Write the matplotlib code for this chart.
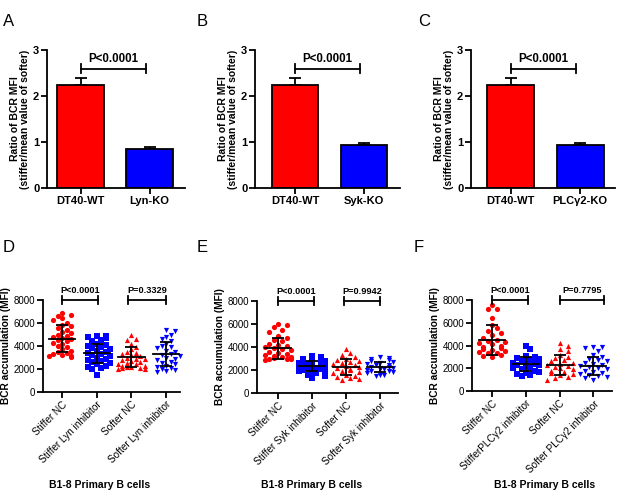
import numpy as np
import matplotlib
matplotlib.use("Agg")
import matplotlib.pyplot as plt

plt.rcParams['font.family'] = ['Liberation Sans', 'DejaVu Sans']

W, H = 617, 495
DPI = 100

# ---------------- data: top bar panels ----------------
bar_categories_A = ["DT40-WT", "Lyn-KO"]
bar_categories_B = ["DT40-WT", "Syk-KO"]
bar_categories_C = ["DT40-WT", "PLC\u03b32-KO"]
bar_means_A = [2.25, 0.85]
bar_err_A = [0.15, 0.04]
bar_means_B = [2.25, 0.93]
bar_err_B = [0.15, 0.05]
bar_means_C = [2.25, 0.93]
bar_err_C = [0.15, 0.05]
bar_pvalues = ["P<0.0001", "P<0.0001", "P<0.0001"]

# ---------------- data: bottom scatter panels ----------------
cats_D = ["Stiffer NC", "Stiffer Lyn inhibitor", "Softer NC", "Softer Lyn inhibitor"]
cats_E = ["Stiffer NC", "Stiffer Syk inhibitor", "Softer NC", "Softer Syk inhibitor"]
cats_F = ["Stiffer NC", "StifferPLC\u03b32 inhibitor", "Softer NC", "Softer PLC\u03b32 inhibitor"]

D_stiff_nc = [6850, 6700, 6600, 6400, 6300, 6000, 5800, 5700, 5600, 5400, 5200, 5100, 5000, 4900,
              4800, 4700, 4600, 4500, 4400, 4300, 4200, 4000, 3900, 3700, 3600, 3500, 3400, 3300,
              3200, 3150, 3100, 3050]
D_stiff_inh = [4900, 4850, 4800, 4700, 4500, 4400, 4200, 4100, 4000, 3900, 3800, 3700, 3600, 3500,
               3400, 3300, 3200, 3100, 3000, 2900, 2800, 2700, 2600, 2500, 2400, 2300, 2200, 2100,
               2000, 1500]
D_soft_nc = [5000, 4600, 4500, 4200, 3900, 3700, 3500, 3400, 3300, 3200, 3100, 3000, 2900, 2850,
             2800, 2700, 2600, 2500, 2450, 2400, 2300, 2250, 2200, 2150, 2100, 2050, 2000, 2000]
D_soft_inh = [5400, 5300, 5000, 4800, 4600, 4400, 4200, 4000, 3900, 3800, 3600, 3500, 3300, 3200,
              3100, 3000, 2900, 2800, 2600, 2500, 2400, 2300, 2200, 2100, 2000, 1900, 1800, 1700]

E_stiff_nc = [6000, 5900, 5700, 5500, 5300, 5000, 4800, 4600, 4500, 4300, 4200, 4100, 4000, 3900,
              3800, 3700, 3600, 3500, 3400, 3300, 3200, 3150, 3100, 3050, 3000, 3000, 2950, 2900]
E_stiff_inh = [3200, 3100, 3000, 2900, 2850, 2800, 2700, 2650, 2600, 2500, 2450, 2400, 2350, 2300,
               2250, 2200, 2150, 2100, 2000, 1950, 1900, 1800, 1700, 1600, 1500, 1300]
E_soft_nc = [3800, 3500, 3300, 3100, 3000, 2900, 2800, 2700, 2600, 2500, 2400, 2350, 2300, 2200,
             2100, 2000, 1900, 1800, 1700, 1600, 1500, 1400, 1300, 1200, 1100]
E_soft_inh = [3100, 3050, 3000, 2900, 2800, 2700, 2600, 2500, 2450, 2400, 2300, 2250, 2200, 2150,
              2100, 2050, 2000, 1950, 1900, 1800, 1700, 1600, 1550, 1500]

F_stiff_nc = [7600, 7200, 7200, 6400, 5800, 5500, 5300, 5100, 4900, 4700, 4500, 4400, 4300, 4200,
              4100, 4000, 3900, 3800, 3700, 3600, 3500, 3400, 3300, 3300, 3200, 3100, 3000]
F_stiff_inh = [4000, 3700, 3100, 3000, 2900, 2800, 2700, 2600, 2500, 2450, 2400, 2350, 2300, 2250,
               2200, 2100, 2000, 1900, 1800, 1700, 1600, 1500, 1400, 1300]
F_soft_nc = [4200, 4000, 3700, 3500, 3200, 3000, 2900, 2700, 2600, 2500, 2400, 2300, 2200, 2100,
             2000, 1900, 1800, 1700, 1600, 1500, 1400, 1200, 1100, 1000]
F_soft_inh = [3900, 3900, 3800, 3500, 3200, 3000, 2800, 2700, 2600, 2500, 2400, 2300, 2200, 2100,
              2000, 1900, 1800, 1700, 1600, 1500, 1400, 1300, 1200, 1100, 1000]

means_D = [4650, 3350, 3050, 3300]
sds_D = [1150, 850, 850, 1050]
means_E = [3900, 2350, 2250, 2250]
sds_E = [900, 450, 680, 450]
means_F = [4500, 2350, 2300, 2200]
sds_F = [1300, 600, 850, 780]
pvals_D = ["P<0.0001", "P=0.3329"]
pvals_E = ["P<0.0001", "P=0.9942"]
pvals_F = ["P<0.0001", "P=0.7795"]

RED = "#ff0000"
BLUE = "#0000ff"

fig = plt.figure(figsize=(W / DPI, H / DPI), dpi=DPI)


def rect(x0, yt, x1, yb):
    return [x0 / W, 1 - yb / H, (x1 - x0) / W, (yb - yt) / H]


def style_axes(ax):
    for s in ["top", "right"]:
        ax.spines[s].set_visible(False)
    for s in ["left", "bottom"]:
        ax.spines[s].set_linewidth(1.3)
    ax.tick_params(direction="out", length=4, width=1.3, pad=1.5)


def bar_panel(box, xlim, cats, means, errs, pval, bx, width):
    ax = fig.add_axes(rect(*box))
    style_axes(ax)
    x = np.arange(len(cats))
    ax.bar(x, means, width=width, color=[RED, BLUE], edgecolor="black", linewidth=1.3, zorder=2)
    ax.errorbar(x, means, yerr=[np.zeros(len(errs)), errs], fmt="none", ecolor="black",
                elinewidth=1.3, capsize=4, capthick=1.3, zorder=1)
    ax.set_xlim(*xlim)
    ax.set_ylim(0, 3)
    ax.set_yticks([0, 1, 2, 3])
    ax.set_xticks(x)
    ax.set_xticklabels(cats, fontsize=8, fontweight="bold")
    for t in ax.get_yticklabels():
        t.set_fontsize(8)
        t.set_fontweight("bold")
    ax.set_ylabel("Ratio of BCR MFI\n(stiffer/mean value of softer)", fontsize=7.5,
                  fontweight="bold", labelpad=2, linespacing=1.05)
    y = 2.59
    ax.plot(bx, [y, y], color="black", lw=1.3, clip_on=False)
    for xx in bx:
        ax.plot([xx, xx], [y - 0.1, y + 0.1], color="black", lw=1.3, clip_on=False)
    ax.text(np.mean(bx), y + 0.09, pval, ha="center", va="bottom", fontsize=8.3,
            fontweight="bold")
    return ax


bar_panel((47, 50, 185, 188), (-0.486, 1.514), bar_categories_A, bar_means_A, bar_err_A,
          bar_pvalues[0], (0.0, 0.95), 0.68)
bar_panel((255, 50, 400, 188), (-0.58, 1.52), bar_categories_B, bar_means_B, bar_err_B,
          bar_pvalues[1], (0.0, 0.94), 0.67)
bar_panel((471, 50, 615, 188), (-0.57, 1.5), bar_categories_C, bar_means_C, bar_err_C,
          bar_pvalues[2], (0.0, 0.94), 0.67)


def swarm(values, px_per_x, px_per_y, diam=5.0, step=0.13, maxoff=0.45):
    order = np.argsort(values)[::-1]
    placed = []
    offs = np.zeros(len(values))
    cands = [0.0]
    k = 1
    while k * step <= maxoff + 1e-9:
        cands += [k * step, -k * step]
        k += 1
    for idx in order:
        v = values[idx]
        best = None
        for c in cands:
            ok = True
            for (pc, pv) in placed:
                dx = (c - pc) * px_per_x
                dy = (v - pv) * px_per_y
                if dx * dx + dy * dy < diam * diam:
                    ok = False
                    break
            if ok:
                best = c
                break
        if best is None:
            best = cands[len(placed) % len(cands)]
        offs[idx] = best
        placed.append((best, v))
    return offs


def scatter_panel(box, xlim, cats, groups, means, sds, pvals, brackets, xlab_x):
    ax = fig.add_axes(rect(*box))
    style_axes(ax)
    x0, yt, x1, yb = box
    px_per_x = (x1 - x0) / (xlim[1] - xlim[0])
    px_per_y = (yb - yt) / 8000.0
    markers = ["o", "s", "^", "v"]
    colors = [RED, BLUE, RED, BLUE]
    for i, vals in enumerate(groups):
        vals = np.asarray(vals, dtype=float)
        offs = swarm(vals, px_per_x, px_per_y)
        ax.scatter(i + offs, vals, marker=markers[i], s=14, color=colors[i], linewidths=0,
                   zorder=2, clip_on=False)
        ax.plot([i - 0.38, i + 0.38], [means[i], means[i]], color="black", lw=1.3, zorder=3)
        ax.errorbar([i], [means[i]], yerr=[sds[i]], fmt="none", ecolor="black", elinewidth=1.3,
                    capsize=4, capthick=1.3, zorder=3)
    ax.set_xlim(*xlim)
    ax.set_ylim(0, 8000)
    ax.set_yticks([0, 2000, 4000, 6000, 8000])
    ax.set_xticks(range(4))
    ax.set_xticklabels(cats, rotation=45, ha="right", rotation_mode="anchor", fontsize=7.2)
    for t in ax.get_yticklabels():
        t.set_fontsize(7)
    ax.set_ylabel("BCR accumulation (MFI)", fontsize=7.3, fontweight="bold", labelpad=2)
    fig.text(xlab_x / W, 1 - 485 / H, "B1-8 Primary B cells", fontsize=7.5,
             fontweight="bold", ha="center", va="center")
    y = 8000
    for (a, b), p in zip(brackets, pvals):
        ax.plot([a, b], [y, y], color="black", lw=1.3, clip_on=False)
        ax.plot([a, a], [y - 350, y + 350], color="black", lw=1.3, clip_on=False)
        ax.plot([b, b], [y - 350, y + 350], color="black", lw=1.3, clip_on=False)
        ax.text((a + b) / 2, y + 420, p, ha="center", va="bottom", fontsize=6.6,
                fontweight="bold")
    return ax


scatter_panel((43, 300, 180, 392), (-0.55, 3.4), cats_D,
              [D_stiff_nc, D_stiff_inh, D_soft_nc, D_soft_inh], means_D, sds_D, pvals_D,
              [(0, 1.05), (1.9, 3.0)], 100)
scatter_panel((257, 301, 398, 393), (-0.62, 3.53), cats_E,
              [E_stiff_nc, E_stiff_inh, E_soft_nc, E_soft_inh], means_E, sds_E, pvals_E,
              [(0, 1.05), (1.95, 3.0)], 312)
scatter_panel((472, 300, 612, 391), (-0.6, 3.55), cats_F,
              [F_stiff_nc, F_stiff_inh, F_soft_nc, F_soft_inh], means_F, sds_F, pvals_F,
              [(0, 1.05), (2.0, 3.3)], 545)

for lab, x, y in [("A", 3, 22), ("B", 197, 22), ("C", 418, 22),
                  ("D", 3, 248), ("E", 197, 248), ("F", 414, 247)]:
    fig.text(x / W, 1 - y / H, lab, fontsize=12, ha="left", va="center")

fig.savefig("out.png", dpi=DPI)
